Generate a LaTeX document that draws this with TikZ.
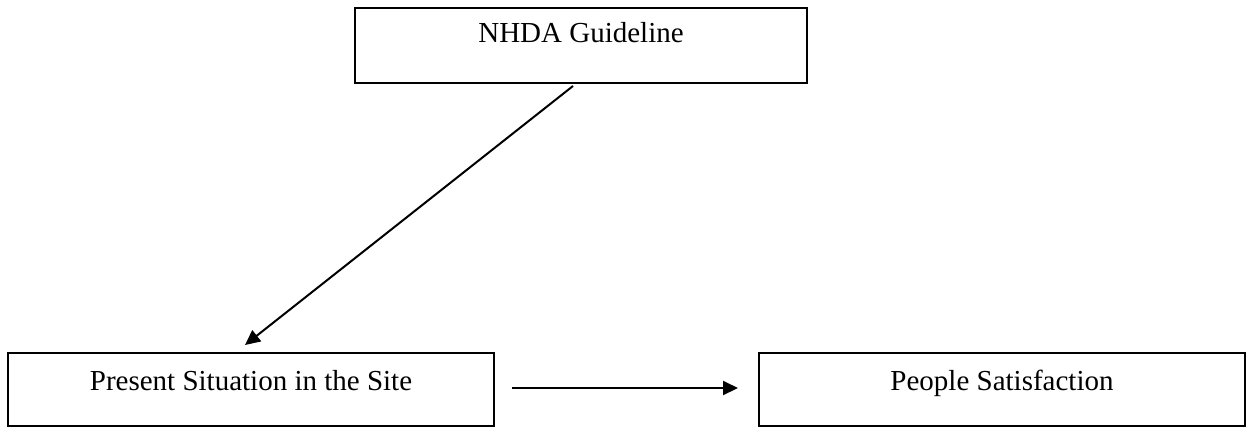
\documentclass[tikz,border=0pt]{standalone}
\usepackage{fontspec}
\setmainfont{Liberation Serif}
\usetikzlibrary{arrows.meta}
\begin{document}
\begin{tikzpicture}[x=1pt,y=-1pt,
  box/.style={draw=black, line width=2pt, inner sep=0pt, anchor=north west},
  lbl/.style={inner sep=0pt, anchor=base, font=\fontsize{29}{34}\selectfont},
  arr/.style={line width=2pt, -{Triangle[length=15pt,width=14pt]}}]
\useasboundingbox (0,0) rectangle (1246,426);
\node[box, minimum width=452pt, minimum height=75pt] (top) at (354,7) {};
\node[box, minimum width=486pt, minimum height=73pt] (left) at (7,352) {};
\node[box, minimum width=486pt, minimum height=73pt] (right) at (758,352) {};
\node[lbl] (toptext) at ([yshift=-35pt]top.north) {NHDA Guideline};
\node[lbl] (lefttext) at ([yshift=-38pt]left.north) {Present Situation in the Site};
\node[lbl] (righttext) at ([yshift=-38pt]right.north) {People Satisfaction};
\coordinate (d1) at (573,86);
\coordinate (d2) at (245,345);
\coordinate (h1) at (512,388);
\coordinate (h2) at (738,388);
\draw[arr] (d1) -- (d2);
\draw[arr] (h1) -- (h2);
\end{tikzpicture}
\end{document}
